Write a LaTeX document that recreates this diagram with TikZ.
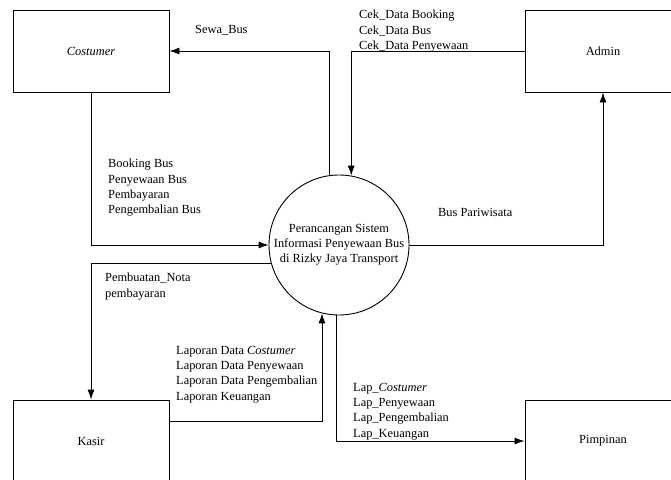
\documentclass[tikz,border=0pt]{standalone}
\usepackage{fontspec}
\setmainfont{Liberation Serif}
\usetikzlibrary{arrows.meta}

\tikzset{
	entitas/.style={draw,line width=0.9pt,minimum width=156pt,minimum height=82pt,inner sep=0pt},
	proses/.style={draw,circle,line width=0.9pt,minimum size=140pt,inner sep=0pt,align=center},
	aliran/.style={line width=0.9pt,-{Latex[length=10pt,width=7pt]}},
	ket/.style={anchor=north west,inner sep=0pt,align=left}
}

\begin{document}
\begin{tikzpicture}[x=1pt,y=-1pt,font=\fontsize{12.4}{15.2}\selectfont]
	\useasboundingbox (0,0) rectangle (671,479);
	\clip (0,0) rectangle (671,479);
	% entitas luar
	\node[entitas] (cost) at (91,51) {\textit{Costumer}};
	\node[entitas] (adm) at (603,51) {Admin};
	\node[entitas] (kas) at (91,441) {Kasir};
	\node[entitas] (pim) at (603,441) {Pimpinan};
	% proses
	\node[proses] (sis) at (339,245) {Perancangan Sistem\\Informasi Penyewaan Bus\\di Rizky Jaya Transport};
	% aliran data
	\draw[aliran] (sis.98) |- (cost.east);
	\draw[aliran] (adm.west) -| (sis.80);
	\draw[aliran] (sis.east) -| (adm.south);
	\draw[aliran] (cost.south) |- (sis.west);
	\draw[aliran] (sis.195) -| (kas.north);
	\draw[aliran] ([yshift=20pt]kas.east) -| (sis.256);
	\draw[aliran] (sis.268) |- (pim.west);
	% keterangan
	\node[ket] (lsewa) at (195,25) {Sewa\_Bus};
	\node[ket] (lcek) at (359,10) {Cek\_Data Booking\\Cek\_Data Bus\\Cek\_Data Penyewaan};
	\node[ket] (lbus) at (438,208) {Bus Pariwisata};
	\node[ket] (lbook) at (108,159) {Booking Bus\\Penyewaan Bus\\Pembayaran\\Pengembalian Bus};
	\node[ket] (lnota) at (105,273) {Pembuatan\_Nota\\pembayaran};
	\node[ket] (llap) at (176,346) {Laporan Data \textit{Costumer}\\Laporan Data Penyewaan\\Laporan Data Pengembalian\\Laporan Keuangan};
	\node[ket] (llp) at (353,383) {Lap\_\textit{Costumer}\\Lap\_Penyewaan\\Lap\_Pengembalian\\Lap\_Keuangan};
\end{tikzpicture}
\end{document}
